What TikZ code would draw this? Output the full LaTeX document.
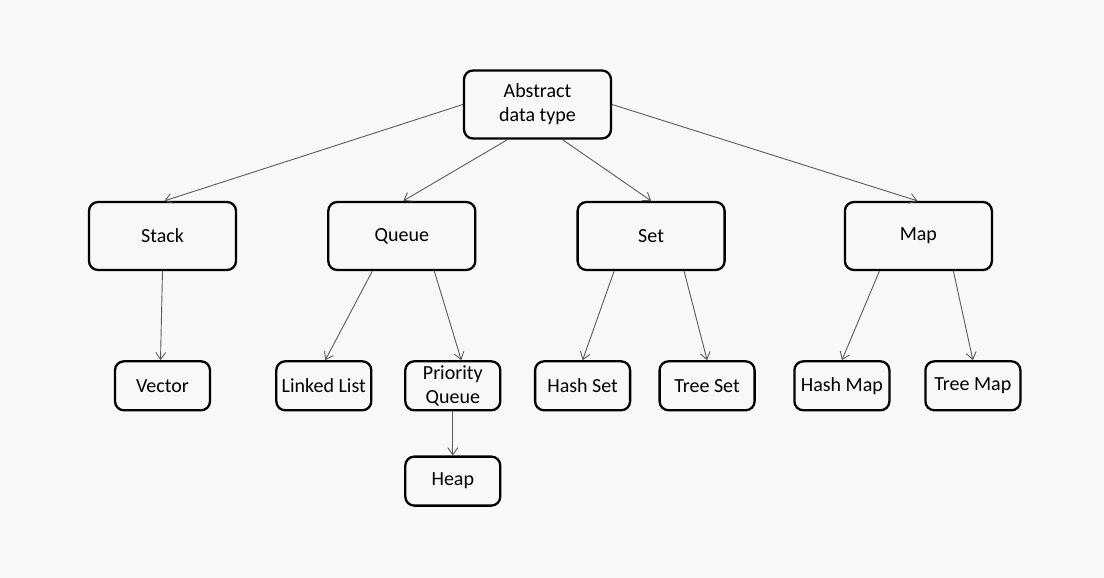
\documentclass[tikz,border=0pt]{standalone}
\usepackage{fontspec}
\setmainfont{Carlito}
\definecolor{bg}{HTML}{F8F8F8}
\definecolor{ln}{HTML}{5A5A5A}
\usetikzlibrary{
  arrows.meta,     % open arrow tips
  positioning      % positions like below of node
}
\tikzset{
    node distance=89pt and 90pt,
    box/.style = {
        rectangle,
        rounded corners=9pt,
        draw,
        line width=2.3pt,
        fill=bg,
        align=center,
        font=\fontsize{20}{24}\selectfont,
        text=black,
        minimum width=147pt,
        minimum height=68pt,
        inner sep=2pt
    },
    leaf/.style = {box, minimum width=95pt, minimum height=49pt},
    every edge/.style = {->,draw},
    ->,        % arrows for all
    >={Straight Barb[length=7pt,width=10pt]},  % arrow type
    arr/.style = {draw=ln, line width=0.9pt}
}

\begin{document}
\begin{tikzpicture}

  %% background
  \fill [bg] (0,0) rectangle (1104pt,-578pt);
  \useasboundingbox (0,0) rectangle (1104pt,-578pt);

  %% top
  \node [box] (ADT) at (537.5pt,-104.5pt) {Abstract\\data type};

  %% first level
  \node [box] (Stk) at (162.5pt,-236pt) {Stack};
  \node [box, right=of Stk] (Q) {Queue};
  \node [box, right=100pt of Q] (S) {Set};
  \node [box, right=118pt of S] (M) {Map};

  \draw [arr] (ADT.west) to ([xshift=2pt]Stk.north);
  \draw [arr] ([xshift=-30pt]ADT.south) to ([xshift=1.5pt]Q.north);
  \draw [arr] ([xshift=25pt]ADT.south) to (S.north);
  \draw [arr] (ADT.east) to ([xshift=-1pt]M.north);

  %% Stack
  \node [leaf, below=of Stk] (Vec) {Vector};
  \draw [arr] (Stk.south) to ([xshift=-2pt]Vec.north);

  %% Queue
  \node [leaf, below=of Q, xshift=-78pt] (LL) {Linked List};
  \node [leaf, below=of Q, xshift=51pt] (PQ) {Priority\\Queue};
  \node [leaf, below=44pt of PQ] (Heap) {Heap};

  \draw [arr] ([xshift=-29.5pt]Q.south) to ([xshift=1.5pt]LL.north);
  \draw [arr] ([xshift=32.5pt]Q.south) to ([xshift=8.5pt]PQ.north);
  \draw [arr] (PQ.south) to (Heap.north);

  %% Set
  \node [leaf, below=of S, xshift=-68.5pt] (HS) {Hash Set};
  \node [leaf, below=of S, xshift=56pt] (TS) {Tree Set};

  \draw [arr] ([xshift=-37pt]S.south) to (HS.north);
  \draw [arr] ([xshift=33pt]S.south) to (TS.north);

  %% Map
  \node [leaf, below=of M, xshift=-76.5pt] (HM) {Hash Map};
  \node [leaf, below=of M, xshift=54.5pt] (TM) {Tree Map};

  \draw [arr] ([xshift=-39pt]M.south) to (HM.north);
  \draw [arr] ([xshift=35pt]M.south) to (TM.north);

\end{tikzpicture}
\end{document}
